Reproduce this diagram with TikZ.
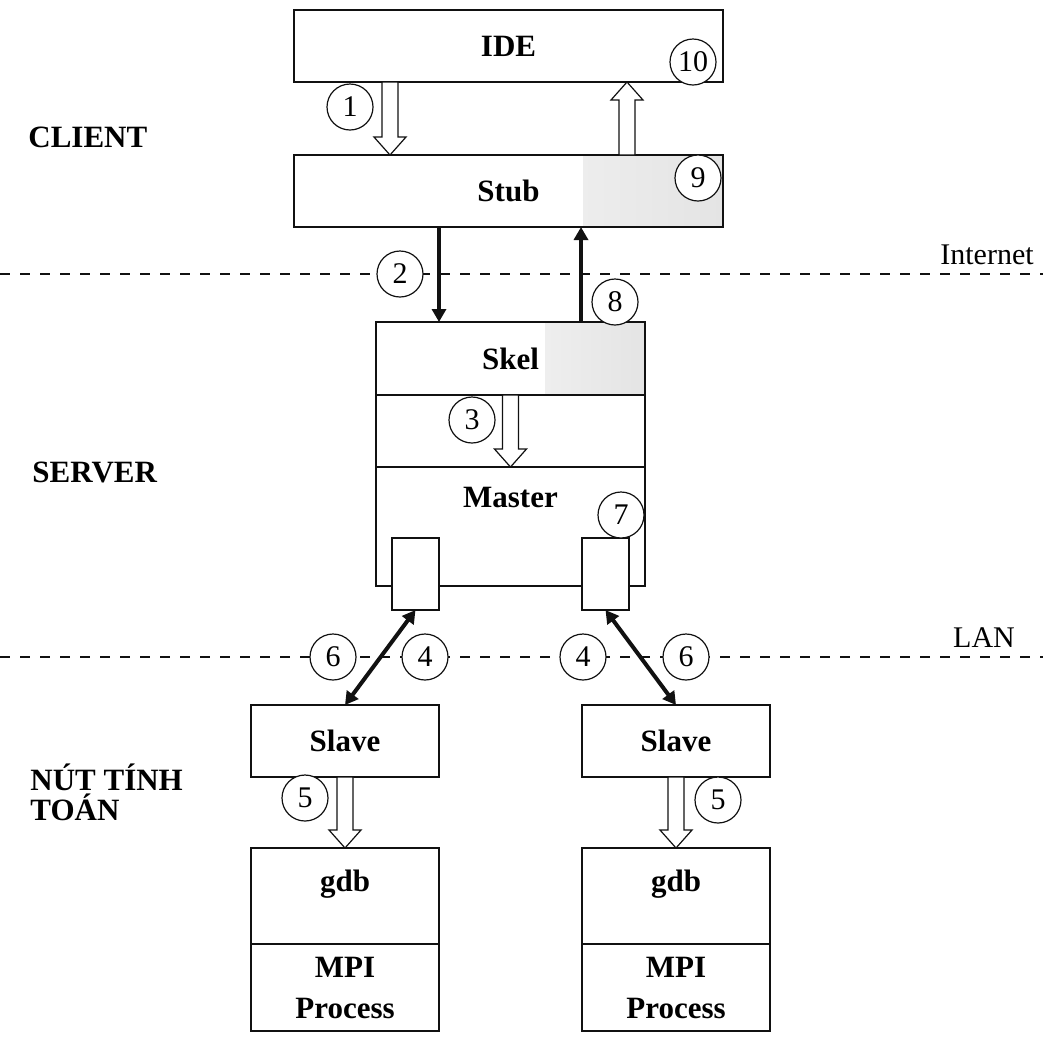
\documentclass[tikz,border=0pt]{standalone}
\usepackage{fontspec}
\setmainfont{Liberation Serif}
\usepackage{tikz}
\usetikzlibrary{arrows.meta,positioning,calc}
\definecolor{ink}{HTML}{111111}
\definecolor{speck}{HTML}{E4E4E4}
\tikzset{
  >={Triangle[length=6.5pt,width=7pt]},
  box/.style={draw=ink,line width=0.8pt,outer sep=0pt,inner sep=0pt,fill=white,align=center,font=\fontsize{15.5}{20.5}\selectfont\bfseries},
  grainy/.style={path picture={\shade[left color=white,right color=speck] ($(path picture bounding box.south east)+(-#1,0)$) rectangle (path picture bounding box.north east);}},
  toptxt/.style={anchor=north,inner sep=0pt,font=\fontsize{15.5}{17}\selectfont\bfseries},
  num/.style={circle,draw=ink,line width=0.6pt,fill=white,minimum size=23pt,inner sep=0pt,font=\fontsize{15}{15}\selectfont},
  lab/.style={inner sep=0pt,align=left,font=\fontsize{15.5}{15}\selectfont\bfseries},
  net/.style={inner sep=0pt,font=\fontsize{15}{15}\selectfont},
  arr/.style={->,draw=ink,line width=2pt},
  darr/.style={<->,draw=ink,line width=2pt},
  hollow/.style={draw=ink,line width=0.6pt,fill=white},
  sep/.style={draw=ink,line width=0.8pt,dash pattern=on 5pt off 5pt},
}
\newcommand{\harrow}[2]{%
  \coordinate (hb) at ($(#2)!9pt!(#1)$);
  \draw[hollow] ($(#1)!4pt!90:(#2)$) -- ($(hb)!4pt!90:(#2)$) -- ($(hb)!8pt!90:(#2)$) -- (#2)
    -- ($(hb)!8pt!-90:(#2)$) -- ($(hb)!4pt!-90:(#2)$) -- ($(#1)!4pt!-90:(#2)$) -- cycle;}

\begin{document}
\begin{tikzpicture}[x=0.5pt,y=-0.5pt,
  wide/.style={box,minimum width=214.5pt,minimum height=36pt},
  srv/.style={box,minimum width=134.5pt,minimum height=36.5pt},
  nd/.style={box,minimum width=94pt,minimum height=36pt},
  port/.style={box,minimum width=23.5pt,minimum height=36pt}]
\useasboundingbox (0,0) rectangle (1043,1041);
\draw[sep] (0,274) -- (1043,274);
\draw[sep] (0,657) -- (1043,657);
\node[net] (inet) at (987,255) {Internet};
\node[net] (lan) at (984,638) {LAN};
\node[lab,anchor=west] (client) at (28,137) {CLIENT};
\node[lab,anchor=west] (server) at (32,472) {SERVER};
\node[lab,anchor=north west] (nut) at (30,763) {NÚT TÍNH\\TOÁN};
\node[wide] (ide) at (508.5,46) {IDE};
\node[wide,grainy=70pt] (stub) at (508.5,191) {Stub};
\node[srv,grainy=50pt] (skel) at (510.5,358.5) {Skel};
\node[srv,below=0pt of skel,minimum height=36pt] (mid) {};
\node[srv,below=0pt of mid,minimum height=59.5pt,label={[toptxt,yshift=-10pt]north:Master}] (master) {};
\node[port] (lport) at (415.5,574) {};
\node[port] (rport) at (605.5,574) {};
\node[nd] (lslave) at (345,741) {Slave};
\node[nd] (rslave) at (676,741) {Slave};
\node[nd,below=35.5pt of lslave,minimum height=48pt,label={[toptxt,yshift=-11pt]north:gdb}] (lgdb) {};
\node[nd,below=35.5pt of rslave,minimum height=48pt,label={[toptxt,yshift=-11pt]north:gdb}] (rgdb) {};
\node[nd,below=0pt of lgdb,minimum height=43.5pt] (lmpi) {MPI\\Process};
\node[nd,below=0pt of rgdb,minimum height=43.5pt] (rmpi) {MPI\\Process};
\coordinate (h1) at ($(ide.south)+(-118.5,0)$);
\coordinate (h1t) at (h1 |- stub.north);
\coordinate (h9) at ($(stub.north)+(118.5,0)$);
\coordinate (h9t) at (h9 |- ide.south);
\harrow{h1}{h1t}
\harrow{h9}{h9t}
\harrow{skel.south}{mid.south}
\harrow{lslave.south}{lgdb.north}
\harrow{rslave.south}{rgdb.north}
\coordinate (a2) at ($(stub.south)+(-69.5,0)$);
\coordinate (a8) at ($(skel.north)+(70.5,0)$);
\draw[arr] (a2) -- (a2 |- skel.north);
\draw[arr] (a8) -- (a8 |- stub.south);
\draw[darr] (lport.south) -- (lslave.north);
\draw[darr] (rport.south) -- (rslave.north);
\foreach \nm/\t/\x/\y in {c10/10/693/62,c1/1/350/107,c9/9/698/178,c2/2/400/274,c8/8/615/302,c3/3/472/420,c7/7/621/515,
  c6a/6/333/657,c4a/4/425/657,c4b/4/583/657,c6b/6/686/657,c5a/5/305/798,c5b/5/718/800}
  \node[num] (\nm) at (\x,\y) {\t};
\end{tikzpicture}
\end{document}
